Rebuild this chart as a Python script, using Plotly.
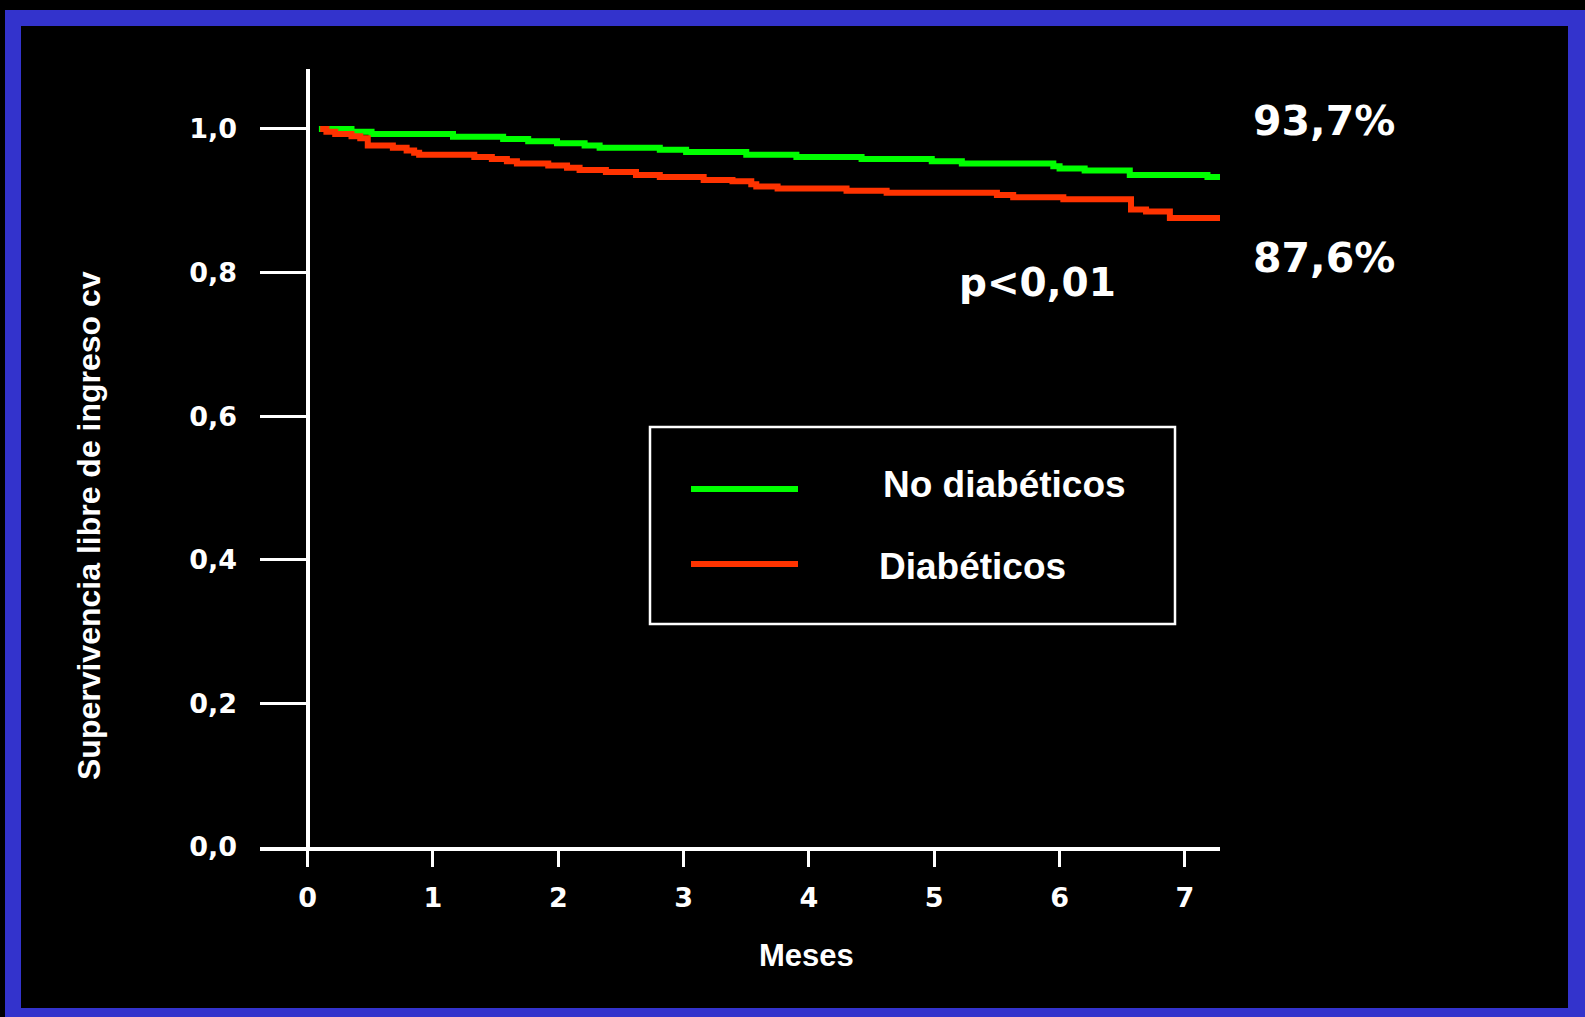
import plotly.graph_objects as go

# Kaplan-Meier: supervivencia libre de ingreso cardiovascular
meses_no_diab = [0.09, 0.35, 0.51, 1.16, 1.56, 1.76, 1.99, 2.21, 2.33, 2.81, 3.02,
                 3.50, 3.90, 4.42, 4.98, 5.22, 5.95, 6.00, 6.20, 6.56, 7.18, 7.28]
superv_no_diab = [1.000, 0.996, 0.993, 0.989, 0.986, 0.983, 0.980, 0.977, 0.974, 0.971, 0.968,
                  0.964, 0.961, 0.958, 0.955, 0.952, 0.948, 0.945, 0.942, 0.936, 0.933, 0.933]

meses_diab = [0.10, 0.15, 0.22, 0.35, 0.42, 0.48, 0.68, 0.79, 0.85, 0.89, 1.33, 1.47,
              1.59, 1.67, 1.92, 2.07, 2.17, 2.38, 2.62, 2.81, 3.16, 3.39, 3.54, 3.58,
              3.75, 4.30, 4.62, 5.50, 5.63, 6.03, 6.57, 6.69, 6.88, 7.28]
superv_diab = [1.000, 0.996, 0.993, 0.990, 0.987, 0.977, 0.974, 0.970, 0.967, 0.964, 0.961, 0.958,
               0.955, 0.952, 0.949, 0.946, 0.943, 0.940, 0.936, 0.933, 0.929, 0.927, 0.923, 0.920,
               0.917, 0.914, 0.911, 0.908, 0.905, 0.902, 0.888, 0.885, 0.876, 0.876]

x_ticks = [0, 1, 2, 3, 4, 5, 6, 7]
y_ticks = [0.0, 0.2, 0.4, 0.6, 0.8, 1.0]
y_ticktext = ["0,0", "0,2", "0,4", "0,6", "0,8", "1,0"]

VERDE = "#00ff00"
ROJO = "#ff3300"
AZUL = "#3333cc"

W, H = 1585, 1017
L, R, T, B = 260, 365, 69, 170


# pixel -> paper coords (plot area is 260..1220 x 69..847)
def px(x):
    return (x - L) / (W - L - R)


def py(y):
    return (H - B - y) / (H - B - T)


fig = go.Figure()
fig.add_trace(go.Scatter(x=meses_no_diab, y=superv_no_diab, mode="lines",
                         line=dict(color=VERDE, width=6, shape="hv"), name="No diabéticos"))
fig.add_trace(go.Scatter(x=meses_diab, y=superv_diab, mode="lines",
                         line=dict(color=ROJO, width=6, shape="hv"), name="Diabéticos"))

num_font = dict(family="DejaVu Sans", color="white", weight="bold")
txt_font = dict(family="Liberation Sans", color="white", weight="bold")

fig.update_layout(
    width=W, height=H,
    margin=dict(l=L, r=R, t=T, b=B),
    paper_bgcolor="black",
    plot_bgcolor="black",
    showlegend=False,
    xaxis=dict(
        range=[-0.38, 7.28], tickvals=x_ticks, ticks="outside", ticklen=16,
        tickwidth=3, tickcolor="white", showline=True, linecolor="white", linewidth=4,
        showgrid=False, zeroline=True, zerolinecolor="white", zerolinewidth=4,
        tickfont=dict(size=27, **num_font), ticklabelstandoff=8,
    ),
    yaxis=dict(
        range=[0, 1.0835], tickvals=y_ticks, ticktext=y_ticktext, ticks="inside",
        ticklen=49, tickwidth=3, tickcolor="white", showline=False, showgrid=False,
        zeroline=False, tickfont=dict(size=27, **num_font), ticklabelstandoff=22,
    ),
)

shapes = [
    # marco azul
    dict(type="rect", xref="paper", yref="paper", x0=px(5), x1=px(1600), y0=py(10), y1=py(1030),
         fillcolor=AZUL, line=dict(width=0), layer="below"),
    dict(type="rect", xref="paper", yref="paper", x0=px(21), x1=px(1568), y0=py(26), y1=py(1008),
         fillcolor="black", line=dict(width=0), layer="below"),
    # caja de leyenda
    dict(type="rect", xref="paper", yref="paper", x0=px(650), x1=px(1175), y0=py(427), y1=py(624),
         line=dict(color="white", width=2.5)),
    dict(type="line", xref="paper", yref="paper", x0=px(691), x1=px(798), y0=py(489), y1=py(489),
         line=dict(color=VERDE, width=6)),
    dict(type="line", xref="paper", yref="paper", x0=px(691), x1=px(798), y0=py(564), y1=py(564),
         line=dict(color=ROJO, width=6)),
]
fig.update_layout(shapes=shapes)

annotations = [
    dict(text="Supervivencia libre de ingreso cv", x=px(89), y=py(526), textangle=-90,
         font=dict(size=32, **txt_font)),
    dict(text="Meses", x=px(806), y=py(955), font=dict(size=31, **txt_font)),
    dict(text="93,7%", x=px(1324), y=py(121), font=dict(size=41, **num_font)),
    dict(text="87,6%", x=px(1324), y=py(258), font=dict(size=41, **num_font)),
    dict(text="p<0,01", x=px(1037), y=py(282), font=dict(size=39, **num_font)),
    dict(text="No diabéticos", x=px(881), y=py(484), xanchor="left", font=dict(size=37, **txt_font)),
    dict(text="Diabéticos", x=px(877), y=py(566), xanchor="left", font=dict(size=37, **txt_font)),
]
for a in annotations:
    a.setdefault("xanchor", "center")
    a.update(xref="paper", yref="paper", yanchor="middle", showarrow=False)
fig.update_layout(annotations=annotations)

fig.write_html(
    "out.html",
    config={"displayModeBar": False},
    post_script="document.body.style.margin='0';document.body.style.overflow='hidden';",
)
